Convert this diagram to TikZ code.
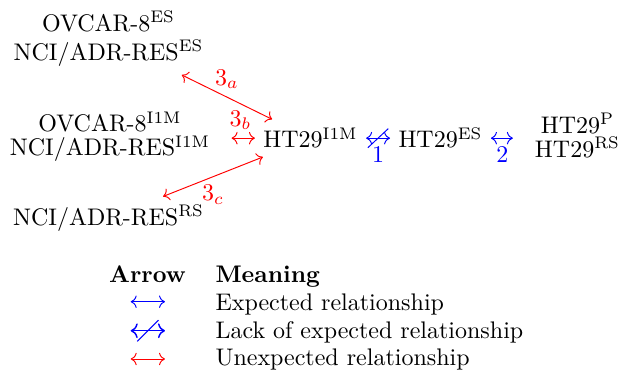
\documentclass[tikz,border=0pt]{standalone}
\usepackage{amsmath}
\usepackage{xcolor}
\usetikzlibrary{arrows.meta}
\usetikzlibrary{positioning}

\tikzset{
    unexpected/.style={red, <->},
    expected/.style={blue, <->},
    legtext/.style={anchor=base west},
}

\begin{document}
\begin{tikzpicture}
        \useasboundingbox (0,0) rectangle (9.112,5.479);
        % cell lines
        \node[align=center] (ovES) at (1.590,4.908) {OVCAR-8$^{\mathrm{ES}}$\\NCI/ADR-RES$^{\mathrm{ES}}$};
        \node[align=center] (ovIM) at (1.612,3.475) {OVCAR-8$^{\mathrm{I1M}}$\\[-2pt]NCI/ADR-RES$^{\mathrm{I1M}}$};
        \node (ncRS) at (1.590,2.285) {NCI/ADR-RES$^{\mathrm{RS}}$};
        \node[anchor=base] (htIM) at (4.549,3.311) {HT29$^{\mathrm{I1M}}$};
        \node[anchor=base] (htES) at (6.453,3.311) {HT29$^{\mathrm{ES}}$};
        \node[align=center] (htP) at (8.460,3.490) {HT29$^{\mathrm{P}}$\\[-2pt]HT29$^{\mathrm{RS}}$};

        % relationships
        \draw[unexpected] (ovES) -- (htIM) node[midway, above] {$3_a$};
        \draw[unexpected, shorten <=0.19cm] (ovIM.east |- htIM) -- (htIM) node[pos=0.6, above] {$3_b$};
        \draw[unexpected] (ncRS) -- (htIM) node[midway, below] {$3_c$};
        \draw[expected] (htIM) -- (htES) node[midway, below] {$1$} coordinate[midway] (not1);
        \draw[blue] ([shift={(-0.15,-0.14)}]not1) -- ([shift={(0.15,0.14)}]not1);
        \draw[expected, shorten >=0.2cm] (htES) -- (htES -| htP.west) node[pos=0.32, below] {$2$};

        % legend
        \node[anchor=base, font=\bfseries] (hdArrow) at (2.161,1.3375) {Arrow};
        \node[legtext, font=\bfseries] (hdMean) at (3.033,1.3375) {Meaning};
        \node[legtext] (mExp) at (3.033,0.933) {Expected relationship};
        \node[legtext] (mLack) at (3.033,0.527) {Lack of expected relationship};
        \node[legtext] (mUnexp) at (3.033,0.1275) {Unexpected relationship};
        \coordinate (a1) at (1.915,1.059);
        \coordinate (b1) at (2.417,1.059);
        \coordinate (a2) at (1.915,0.634);
        \coordinate (b2) at (2.417,0.634);
        \coordinate (a3) at (1.915,0.220);
        \coordinate (b3) at (2.417,0.220);
        \draw[expected] (a1) -- (b1);
        \draw[expected, semithick] (a2) -- (b2) coordinate[midway] (not2);
        \draw[blue] ([shift={(-0.155,-0.155)}]not2) -- ([shift={(0.155,0.155)}]not2);
        \draw[unexpected] (a3) -- (b3);
\end{tikzpicture}
\end{document}
